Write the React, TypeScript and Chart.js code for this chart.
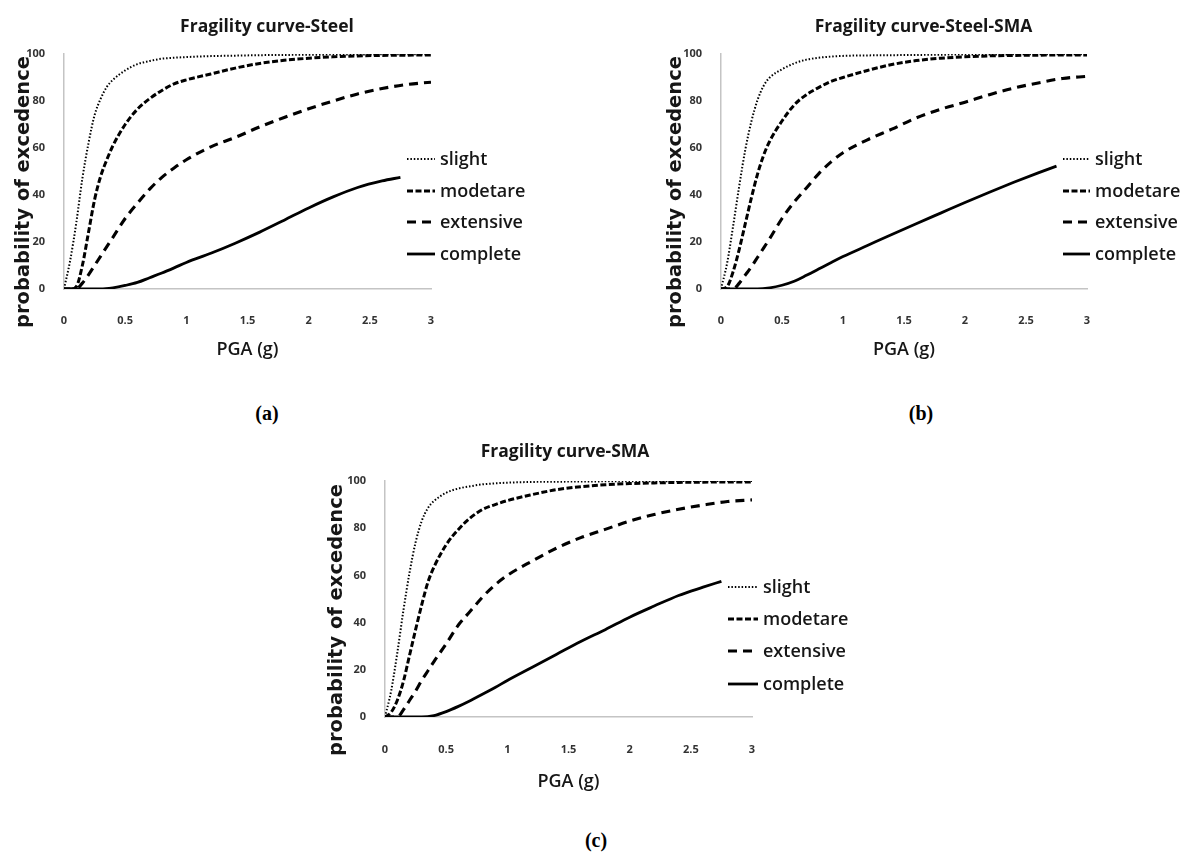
import React, { useEffect, useRef } from 'react';
import { Chart, registerables } from 'chart.js';

Chart.register(...registerables);

// ---------- data ----------
const PGA = [0, 0.05, 0.1, 0.15, 0.2, 0.25, 0.3, 0.35, 0.4, 0.5, 0.6, 0.7, 0.8, 0.9, 1.0, 1.2, 1.4, 1.6, 1.8, 2.0, 2.2, 2.4, 2.6, 2.8, 3.0];
const PGA_COMPLETE = [0, 0.1, 0.2, 0.3, 0.4, 0.5, 0.6, 0.7, 0.8, 0.9, 1.0, 1.2, 1.4, 1.6, 1.8, 2.0, 2.2, 2.4, 2.6, 2.75];

const STEEL_SLIGHT = [0, 12, 28, 47, 62, 74, 81, 86, 89, 93, 95.7, 97, 98, 98.4, 98.7, 99.1, 99.3, 99.5, 99.6, 99.7, 99.75, 99.8, 99.85, 99.9, 99.9];
const STEEL_MODERATE = [0, 0, 1, 10, 24, 38, 48, 55, 61, 70, 76.5, 81, 84.5, 87.3, 89, 91.5, 94, 96, 97.3, 98.2, 98.8, 99.2, 99.4, 99.5, 99.6];
const STEEL_EXTENSIVE = [0, 0, 0, 2.5, 6, 10, 14, 18, 22, 30, 36.5, 42.5, 47.5, 51.5, 55, 60.5, 64.5, 69, 73, 76.7, 80, 83, 85.3, 87, 88];
const STEEL_COMPLETE = [0, 0, 0, 0, 0.5, 1.5, 2.8, 4.8, 6.8, 9, 11.3, 15.2, 19.5, 24.2, 29.3, 34.5, 39.2, 43.2, 46, 47.5];

const STEELSMA_SLIGHT = [0, 11, 27, 44, 59.5, 71.5, 80.5, 86.5, 90, 93.5, 96, 97.6, 98.4, 98.9, 99.2, 99.4, 99.5, 99.6, 99.7, 99.8, 99.8, 99.85, 99.9, 99.9, 99.9];
const STEELSMA_MODERATE = [0, 1, 7.5, 17, 28, 39, 49, 57, 63, 71.5, 78.3, 82.7, 85.7, 88.3, 90, 93, 95.5, 97.2, 98.2, 98.8, 99.2, 99.4, 99.5, 99.6, 99.6];
const STEELSMA_EXTENSIVE = [0, 0, 0, 2.5, 6, 9.5, 13.5, 17.5, 21.5, 30, 37, 43, 49, 54, 58, 63.5, 68, 72.8, 76.5, 79.5, 82.7, 85.5, 87.7, 89.6, 90.5];
const STEELSMA_COMPLETE = [0, 0, 0, 0, 0.5, 1.6, 3.3, 5.8, 8.5, 11.2, 13.8, 18.5, 23.2, 27.8, 32.3, 36.8, 41.2, 45.4, 49.4, 52.3];

const SMA_SLIGHT = [0, 11, 27, 45, 61, 74, 83, 88.5, 91.5, 95, 96.8, 97.8, 98.6, 99, 99.3, 99.6, 99.7, 99.8, 99.85, 99.9, 99.9, 99.95, 100, 100, 100];
const SMA_MODERATE = [0, 2, 7, 15, 26, 37, 47.5, 57, 63.5, 73, 79.5, 84.5, 88, 90, 91.7, 94.2, 96.3, 97.6, 98.4, 98.9, 99.2, 99.4, 99.5, 99.6, 99.6];
const SMA_EXTENSIVE = [0, 0, 0, 3, 7, 11, 15.5, 19.5, 23.5, 31, 39, 45, 51, 56, 60, 66, 71.5, 76, 79.5, 83, 85.8, 88, 89.8, 91.3, 92];
const SMA_COMPLETE = [0, 0, 0, 0, 0.6, 2.3, 4.5, 7, 9.7, 12.5, 15.5, 21, 26.5, 32, 37, 42.3, 47, 51.5, 55, 57.5];

const SERIES_LABELS = ['slight', 'modetare', 'extensive', 'complete'];
const X_TICKS = [0, 0.5, 1, 1.5, 2, 2.5, 3];
const Y_TICKS = [0, 20, 40, 60, 80, 100];
const TITLES = ['Fragility curve-Steel', 'Fragility curve-Steel-SMA', 'Fragility curve-SMA'];
const Y_TITLE = 'probability of excedence';
const X_TITLE = 'PGA (g)';
const CAPTIONS = ['(a)', '(b)', '(c)'];

const PANEL_DATA = [
  [STEEL_SLIGHT, STEEL_MODERATE, STEEL_EXTENSIVE, STEEL_COMPLETE],
  [STEELSMA_SLIGHT, STEELSMA_MODERATE, STEELSMA_EXTENSIVE, STEELSMA_COMPLETE],
  [SMA_SLIGHT, SMA_MODERATE, SMA_EXTENSIVE, SMA_COMPLETE],
];

// ---------- styles / layout ----------
const LINE_STYLES = [
  { borderDash: [1.5, 1.9], borderWidth: 2 },
  { borderDash: [6, 2.5], borderWidth: 3 },
  { borderDash: [9, 6], borderWidth: 3.1 },
  { borderDash: [], borderWidth: 2.8 },
];

const PANELS = [
  { left: 0, top: 0, width: 540, height: 380, plotLeft: 64, plotRight: 431, plotTop: 54, plotBottom: 289, titleX: 267, titleY: 27, yTitleX: 24, yTitleY: 192, sampleX: 407, textX: 440, rows: [159, 191, 222, 254], xTickPad: 17, xTitlePad: 19 },
  { left: 640, top: 0, width: 540, height: 380, plotLeft: 81, plotRight: 447, plotTop: 54, plotBottom: 289, titleX: 283.5, titleY: 27, yTitleX: 36, yTitleY: 192, sampleX: 423, textX: 455, rows: [159, 191, 222, 254], xTickPad: 17, xTitlePad: 19 },
  { left: 280, top: 427, width: 580, height: 380, plotLeft: 105, plotRight: 472, plotTop: 54, plotBottom: 290, titleX: 285, titleY: 25, yTitleX: 57, yTitleY: 193, sampleX: 448, textX: 483, rows: [160, 192, 224, 257], xTickPad: 18, xTitlePad: 14 },
];

const CAPTION_POS = [
  { x: 267, y: 413 },
  { x: 921, y: 413 },
  { x: 596, y: 840 },
];

const TEXT_COLOR = '#161616';
const TICK_COLOR = '#333333';
const AXIS_COLOR = '#c4c4c4';

function makeDecor(panel: any, title: string) {
  return {
    id: 'decor',
    afterDraw(chart: any) {
      const ctx = chart.ctx as CanvasRenderingContext2D;
      ctx.save();
      ctx.fillStyle = TEXT_COLOR;
      ctx.textBaseline = 'middle';
      // chart title
      ctx.font = '700 17.5px "Open Sans"';
      ctx.textAlign = 'center';
      ctx.fillText(title, panel.titleX, panel.titleY);
      // y axis title
      ctx.save();
      ctx.translate(panel.yTitleX, panel.yTitleY);
      ctx.rotate(-Math.PI / 2);
      ctx.font = 'bold 19.5px "DejaVu Sans"';
      ctx.fillText(Y_TITLE, 0, 0);
      ctx.restore();
      // legend
      chart.data.datasets.forEach((ds: any, i: number) => {
        const y = panel.rows[i];
        ctx.beginPath();
        ctx.setLineDash(ds.borderDash || []);
        ctx.lineWidth = ds.borderWidth;
        ctx.strokeStyle = ds.borderColor;
        ctx.lineCap = 'butt';
        ctx.moveTo(panel.sampleX, y);
        ctx.lineTo(panel.textX - 5, y);
        ctx.stroke();
        ctx.setLineDash([]);
        ctx.font = '600 18px "Open Sans"';
        ctx.textAlign = 'left';
        ctx.fillStyle = TEXT_COLOR;
        ctx.fillText(ds.label, panel.textX, y + 1);
      });
      ctx.restore();
    },
  };
}

function makeConfig(idx: number): any {
  const panel = PANELS[idx];
  const series = PANEL_DATA[idx];
  const datasets = series.map((vals, i) => {
    const xs = i === 3 ? PGA_COMPLETE : PGA;
    return {
      label: SERIES_LABELS[i],
      data: xs.map((x, j) => ({ x, y: vals[j] })),
      borderColor: '#000000',
      backgroundColor: '#000000',
      borderWidth: LINE_STYLES[i].borderWidth,
      borderDash: LINE_STYLES[i].borderDash,
      borderCapStyle: 'butt',
      pointRadius: 0,
      pointHoverRadius: 0,
      fill: false,
      cubicInterpolationMode: 'monotone',
    };
  });
  const tickFont = { family: '"Open Sans"', size: 11, weight: '700' };
  return {
    type: 'line',
    data: { datasets },
    options: {
      responsive: false,
      maintainAspectRatio: false,
      animation: false,
      events: [],
      layout: { padding: { top: panel.plotTop, left: 0, right: panel.width - panel.plotRight, bottom: 0 } },
      plugins: { legend: { display: false }, title: { display: false }, tooltip: { enabled: false } },
      scales: {
        x: {
          type: 'linear',
          min: 0,
          max: 3,
          grid: { display: false },
          border: { display: true, color: AXIS_COLOR, width: 1.5 },
          afterBuildTicks: (s: any) => { s.ticks = X_TICKS.map((v) => ({ value: v })); },
          ticks: { autoSkip: false, maxRotation: 0, padding: panel.xTickPad, color: TICK_COLOR, font: tickFont, callback: (v: any) => String(v) },
          title: { display: true, text: X_TITLE, color: TEXT_COLOR, font: { family: '"Open Sans"', size: 18, weight: '600' }, padding: { top: 0, bottom: panel.xTitlePad } },
          afterFit: (s: any) => { s.height = panel.height - panel.plotBottom; },
        },
        y: {
          type: 'linear',
          min: 0,
          max: 100,
          grid: { display: false },
          border: { display: true, color: AXIS_COLOR, width: 1.5 },
          afterBuildTicks: (s: any) => { s.ticks = Y_TICKS.map((v) => ({ value: v })); },
          ticks: { autoSkip: false, padding: 11, color: TICK_COLOR, font: tickFont, callback: (v: any) => String(v) },
          afterFit: (s: any) => { s.width = panel.plotLeft; },
        },
      },
    },
    plugins: [makeDecor(panel, TITLES[idx])],
  };
}

export default function App() {
  const r0 = useRef<HTMLCanvasElement>(null);
  const r1 = useRef<HTMLCanvasElement>(null);
  const r2 = useRef<HTMLCanvasElement>(null);

  useEffect(() => {
    const refs = [r0, r1, r2];
    const charts = refs.map((r, i) => new Chart(r.current as HTMLCanvasElement, makeConfig(i)));
    let alive = true;
    const fonts = ['700 17.5px "Open Sans"', '600 18px "Open Sans"', '700 11px "Open Sans"', 'bold 19.5px "DejaVu Sans"'];
    Promise.all(fonts.map((f) => (document as any).fonts.load(f).catch(() => null))).then(() => {
      if (alive) charts.forEach((c) => c.update());
    });
    return () => {
      alive = false;
      charts.forEach((c) => c.destroy());
    };
  }, []);

  const refs = [r0, r1, r2];
  return (
    <div style={{ position: 'fixed', left: 0, top: 0, width: 1180, height: 857, background: '#ffffff', overflow: 'hidden' }}>
      {PANELS.map((p, i) => (
        <canvas
          key={i}
          ref={refs[i]}
          width={p.width}
          height={p.height}
          style={{ position: 'absolute', left: p.left, top: p.top, width: p.width, height: p.height }}
        />
      ))}
      {CAPTIONS.map((c, i) => (
        <div
          key={c}
          style={{
            position: 'absolute',
            left: CAPTION_POS[i].x,
            top: CAPTION_POS[i].y,
            transform: 'translate(-50%, -50%)',
            font: 'bold 20px "Liberation Serif", "Times New Roman", serif',
            color: '#000',
            whiteSpace: 'nowrap',
          }}
        >
          {c}
        </div>
      ))}
    </div>
  );
}
